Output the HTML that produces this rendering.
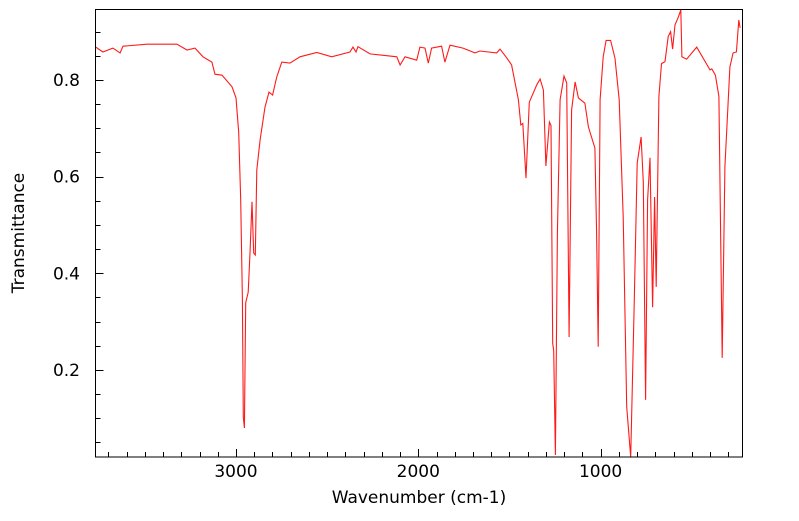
<!DOCTYPE html>
<html><head><meta charset="utf-8"><style>
body{margin:0;background:#fff;width:799px;height:516px;overflow:hidden}
text{font-family:"DejaVu Sans","Liberation Sans",sans-serif;fill:#000}
</style></head><body>
<svg id="chart" width="799" height="516" xmlns="http://www.w3.org/2000/svg">
<defs><clipPath id="pc"><rect x="95.5" y="9.5" width="647" height="447.5"/></clipPath></defs>
<g id="ticks"></g>
<path id="spectrum" fill="none" stroke="#ff1a1a" stroke-width="1.1" clip-path="url(#pc)"/>
<rect x="95.5" y="9.5" width="647" height="447.5" fill="none" stroke="#000" stroke-width="1"/>
<text x="419" y="503" font-size="17" text-anchor="middle">Wavenumber (cm-1)</text>
<text transform="translate(24,233) rotate(-90)" font-size="17" text-anchor="middle">Transmittance</text>
</svg>
<script>
const wavenumbers=[3773,3730,3675,3636,3620,3488,3324,3269,3225,3181,3132,3115,3077,3022,3000,2985,2974,2965,2960,2954,2947,2933,2923,2912,2903,2894,2886,2868,2841,2819,2799,2777,2749,2704,2649,2557,2475,2375,2358,2342,2331,2265,2118,2100,2073,2009,1991,1963,1945,1927,1872,1854,1826,1755,1689,1662,1570,1552,1515,1488,1451,1438,1427,1409,1391,1350,1332,1314,1300,1281,1272,1263,1257,1248,1237,1222,1201,1186,1173,1159,1140,1122,1086,1067,1031,1022,1013,1003,986,970,945,921,898,876,857,835,815,799,778,766,753,742,729,715,704,695,680,666,647,629,616,605,592,574,560,554,528,473,400,390,370,351,333,318,291,273,255,242,235];
const transmittance=[0.869,0.858,0.866,0.856,0.870,0.874,0.874,0.862,0.866,0.848,0.837,0.812,0.810,0.786,0.763,0.692,0.552,0.345,0.103,0.080,0.339,0.361,0.442,0.548,0.442,0.438,0.614,0.676,0.744,0.775,0.769,0.806,0.837,0.835,0.848,0.857,0.848,0.858,0.868,0.858,0.869,0.854,0.848,0.831,0.848,0.841,0.868,0.866,0.835,0.866,0.870,0.837,0.872,0.866,0.856,0.860,0.856,0.864,0.846,0.831,0.759,0.707,0.710,0.597,0.754,0.790,0.802,0.779,0.622,0.713,0.706,0.255,0.240,0.024,0.483,0.759,0.808,0.794,0.268,0.738,0.796,0.763,0.752,0.703,0.659,0.483,0.248,0.759,0.848,0.882,0.882,0.845,0.759,0.517,0.124,0.020,0.345,0.628,0.682,0.589,0.138,0.552,0.639,0.330,0.558,0.372,0.766,0.834,0.838,0.890,0.900,0.864,0.914,0.930,0.945,0.848,0.843,0.868,0.821,0.823,0.810,0.766,0.225,0.620,0.827,0.856,0.858,0.924,0.908];
const xMajor=[3000,2000,1000];
const xMajorLabels=["3000","2000","1000"];
const yMajor=[0.2,0.4,0.6,0.8];
const yMajorLabels=["0.2","0.4","0.6","0.8"];
const X=w=>236-(w-3000)*0.1823;
const Y=t=>80-(t-0.8)*483.3;
const NS="http://www.w3.org/2000/svg";
const svg=document.getElementById('chart');
const tg=document.getElementById('ticks');
function line(x1,y1,x2,y2,name){const l=document.createElementNS(NS,'line');l.setAttribute('x1',x1);l.setAttribute('y1',y1);l.setAttribute('x2',x2);l.setAttribute('y2',y2);l.setAttribute('stroke','#000');


tg.appendChild(l);}
function txt(x,y,s,anchor,name){const t=document.createElementNS(NS,'text');t.setAttribute('x',x);t.setAttribute('y',y);t.setAttribute('font-size','17');t.setAttribute('text-anchor',anchor);t.textContent=s;


svg.appendChild(t);}
for(let w=3700;w>=300;w-=100){const x=Math.round(X(w))+0.5;const maj=w%1000===0;line(x,457,x,457-(maj?8:5),maj?'x-major-tick':'x-minor-tick');}
xMajor.forEach((w,i)=>txt(X(w),477,xMajorLabels[i],'middle','x-tick-label'));
for(let k=1;k<=18;k++){const t=k*0.05;const y=Math.round(Y(t))+0.5;if(y<10||y>457)continue;const maj=k%4===0;line(95.5,y,95.5+(maj?8:5),y,maj?'y-major-tick':'y-minor-tick');}
yMajor.forEach((t,i)=>txt(80,Y(t)+6,yMajorLabels[i],'end','y-tick-label'));
let d='';wavenumbers.forEach((w,i)=>{d+=(i?'L':'M')+X(w).toFixed(1)+','+Y(transmittance[i]).toFixed(1);});
document.getElementById('spectrum').setAttribute('d',d);
</script>
</body></html>
